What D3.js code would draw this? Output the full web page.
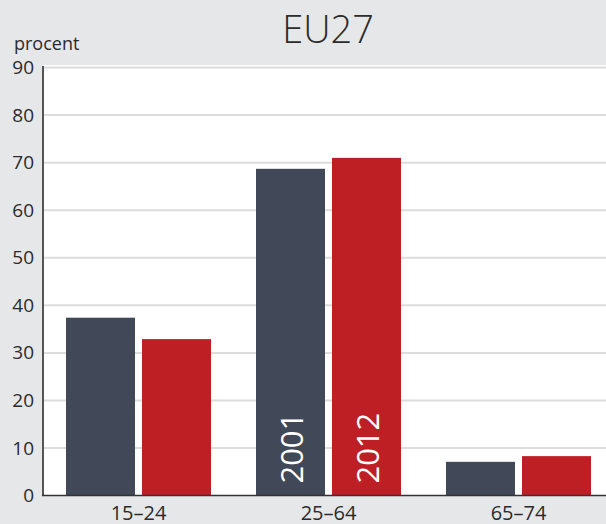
<!DOCTYPE html>
<html><head><meta charset="utf-8">
<script src="https://cdn.jsdelivr.net/npm/d3@7"></script>
<style>html,body{margin:0;padding:0;background:#e6e7e9;}svg{display:block;}</style>
</head><body><div id="chart"></div>
<script>
const categories = ["15–24", "25–64", "65–74"];
const seriesNames = ["2001", "2012"];
const values2001 = [37.4, 68.7, 7.1];
const values2012 = [32.9, 71.0, 8.3];
const yTicks = [0, 10, 20, 30, 40, 50, 60, 70, 80, 90];
const title = "EU27";
const yLabel = "procent";
const colors = ["#414857", "#bd1f24"];

(function () {
const W = 606, H = 524;
const font = "'Open Sans', sans-serif";
const svg = d3.select("#chart").append("svg").attr("width", W).attr("height", H);
svg.append("rect").attr("width", W).attr("height", H).attr("fill", "#e6e7e9");

const mLeft = 43, mTop = 65, mBottom = 495.6;
const y = d3.scaleLinear().domain([0, 90]).range([mBottom, 67.5]);
const pIn = 45 / 190;
const x0 = d3.scaleBand().domain(categories).range([43.5, 613.5]).paddingInner(pIn).paddingOuter(pIn / 2);
const x1 = d3.scaleBand().domain(seriesNames).range([0, x0.bandwidth()]).paddingInner(7 / 76);

svg.append("rect").attr("x", mLeft).attr("y", mTop).attr("width", W - mLeft).attr("height", mBottom - mTop).attr("fill", "#fff");

svg.append("g").selectAll("line").data(yTicks.filter(d => d > 0)).join("line")
  .attr("x1", mLeft).attr("x2", W).attr("y1", d => y(d)).attr("y2", d => y(d))
  .attr("stroke", "#dcdcdc").attr("stroke-width", 2);

const data = categories.map((c, i) => ({cat: c, vals: [values2001[i], values2012[i]]}));
const g = svg.append("g").selectAll("g").data(data).join("g")
  .attr("transform", d => `translate(${x0(d.cat)},0)`);
g.selectAll("rect").data(d => d.vals.map((v, j) => ({s: seriesNames[j], v, j}))).join("rect")
  .attr("x", d => x1(d.s)).attr("width", x1.bandwidth())
  .attr("y", d => y(d.v)).attr("height", d => mBottom - y(d.v))
  .attr("fill", d => colors[d.j]);

const mid = categories[1];
seriesNames.forEach(s => {
  const cx = x0(mid) + x1(s) + x1.bandwidth() / 2 + 1.5;
  svg.append("text").text(s)
    .attr("transform", `translate(${cx + 11},${mBottom - 12}) rotate(-90)`)
    .attr("fill", "#fff").attr("font-family", font).attr("font-size", 31)
    .attr("text-anchor", "start");
});

const yAxis = d3.axisLeft(y).tickValues(yTicks).tickSize(0).tickPadding(9);
const ya = svg.append("g").attr("transform", `translate(${mLeft},0)`).call(yAxis);
ya.select(".domain").remove();
ya.selectAll("text").attr("font-family", font).attr("font-size", 19).attr("fill", "#2b2b2b");

const xAxis = d3.axisBottom(x0).tickSize(0).tickPadding(10);
const xa = svg.append("g").attr("transform", `translate(0,${mBottom})`).call(xAxis);
xa.select(".domain").remove();
xa.selectAll("text").attr("font-family", font).attr("font-size", 20).attr("fill", "#2b2b2b");

svg.append("line").attr("x1", mLeft).attr("x2", mLeft).attr("y1", 66).attr("y2", mBottom)
  .attr("stroke", "#555").attr("stroke-width", 2);
svg.append("line").attr("x1", mLeft - 1).attr("x2", W).attr("y1", mBottom).attr("y2", mBottom)
  .attr("stroke", "#333").attr("stroke-width", 1.5);

svg.append("text").text(title).attr("x", 328).attr("y", 43).attr("text-anchor", "middle")
  .attr("font-family", font).attr("font-size", 38).attr("fill", "#2b2b2b").attr("font-weight", 300);
svg.append("text").text(yLabel).attr("x", 14).attr("y", 50)
  .attr("font-family", font).attr("font-size", 18).attr("fill", "#2b2b2b");
})();
</script></body></html>
